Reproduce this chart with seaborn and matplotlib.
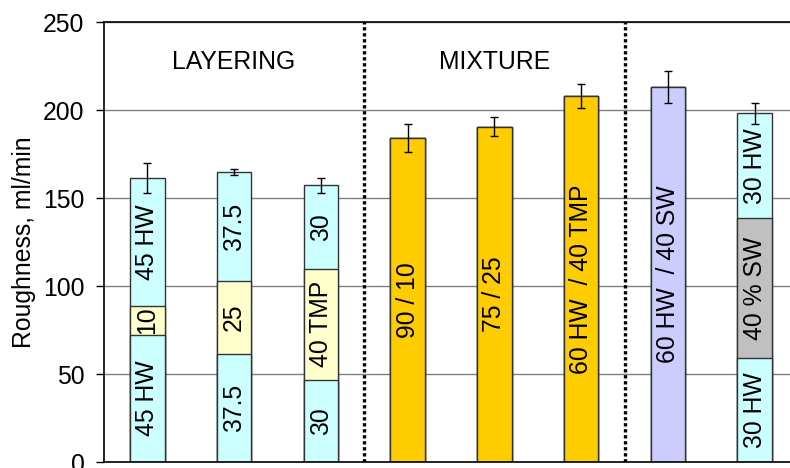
import numpy as np
import pandas as pd
import matplotlib
matplotlib.use('Agg')
import matplotlib.pyplot as plt
import seaborn as sns

# Datos (ml/min)
bar_ids = ['L1', 'L2', 'L3', 'M1', 'M2', 'M3', 'S1', 'S2']
bottom_layer = [72.3, 61.4, 46.8, 184.3, 190.5, 208.1, 213.1, 59.1]
middle_layer = [16.2, 41.3, 63.0, 0, 0, 0, 0, 79.5]
top_layer = [73.0, 61.9, 47.4, 0, 0, 0, 0, 59.5]
errors = [8.5, 1.8, 4.3, 8.0, 5.5, 6.7, 9.3, 6.0]

bottom_labels = ['45 HW', '37.5', '30', '90 / 10', '75 / 25',
                 '60 HW  / 40 TMP', '60 HW  / 40 SW', '30 HW']
middle_labels = ['10', '25', '40 TMP', '', '', '', '', '40 % SW']
top_labels = ['45 HW', '37.5', '30', '', '', '', '', '30 HW']

group_labels = ['LAYERING', 'MIXTURE']
group_pos = [1, 4]
separators = [2.5, 5.5]

cyan, cream, gold, lilac, grey = '#CCFFFF', '#FFFFCC', '#FFCC00', '#CCCCFF', '#C0C0C0'
bottom_colors = [cyan, cyan, cyan, gold, gold, gold, lilac, cyan]
middle_colors = [cream, cream, cream, gold, gold, gold, lilac, grey]
top_colors = [cyan, cyan, cyan, gold, gold, gold, lilac, cyan]

df = pd.DataFrame({'bar': bar_ids, 'b': bottom_layer, 'm': middle_layer, 't': top_layer})
df['c1'] = df['b']
df['c2'] = df['b'] + df['m']
df['c3'] = df['c2'] + df['t']

sns.set_theme(style='white')
plt.rcParams['font.family'] = ['Liberation Sans', 'DejaVu Sans']
fs = 17.8

fig = plt.figure(figsize=(7.9, 4.68), dpi=100)
ax = fig.add_axes([104 / 790, 6 / 468, 694 / 790, 440 / 468])

# apilado: se dibuja el total y encima las capas inferiores
for col, colors in [('c3', top_colors), ('c2', middle_colors), ('c1', bottom_colors)]:
    sns.barplot(data=df, x='bar', y=col, hue='bar', order=bar_ids, hue_order=bar_ids,
                palette=dict(zip(bar_ids, colors)), legend=False, width=0.4,
                edgecolor='#333333', linewidth=1.0, saturation=1, ax=ax, zorder=2)

ax.errorbar(np.arange(len(bar_ids)), df['c3'], yerr=errors, fmt='none',
            ecolor='black', elinewidth=1.0, capsize=2.6, capthick=1.0, zorder=4)

# textos dentro de las barras
for i in range(len(bar_ids)):
    segs = [(0, df['c1'][i], bottom_labels[i]),
            (df['c1'][i], df['c2'][i], middle_labels[i]),
            (df['c2'][i], df['c3'][i], top_labels[i])]
    for lo, hi, txt in segs:
        if txt:
            ax.text(i, (lo + hi) / 2, txt, rotation=90, ha='center', va='center',
                    fontsize=fs, color='black', zorder=5)

for x, txt in zip(group_pos, group_labels):
    ax.text(x, 227.5, txt, ha='center', va='center', fontsize=fs, color='black')

for x in separators:
    ax.axvline(x, color='black', linestyle=(0, (1, 0.8)), linewidth=2.4, zorder=3)

ax.set_xlim(-0.5, 7.5)
ax.set_ylim(0, 250)
ax.set_yticks([0, 50, 100, 150, 200, 250])
ax.yaxis.grid(True, color='#808080', linewidth=1.0)
ax.set_axisbelow(True)
ax.set_xticks([])
ax.set_xlabel('')
ax.set_ylabel('Roughness, ml/min', fontsize=fs, labelpad=5, color='black')
ax.tick_params(axis='y', labelsize=fs, length=6, width=1, pad=8, left=True,
               colors='black', direction='out')
for side in ['left', 'top', 'bottom']:
    ax.spines[side].set_color('black')
    ax.spines[side].set_linewidth(1.2)
ax.spines['right'].set_visible(False)

fig.savefig('out.png', dpi=100)
